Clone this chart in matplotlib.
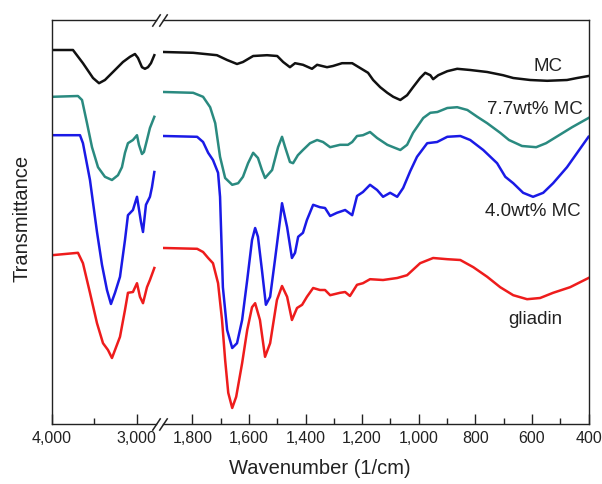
import matplotlib
matplotlib.use("Agg")
import matplotlib.pyplot as plt
from matplotlib.ticker import FixedLocator, FuncFormatter

plt.rcParams['font.family'] = ['Liberation Sans', 'DejaVu Sans']

# ---- data: left segment (high wavenumber) ----
wn_left_mc = [4000, 3752, 3634, 3515, 3444, 3374, 3279, 3161, 3078, 3019, 2983, 2936, 2901, 2865, 2830, 2790]
t_left_mc = [93.5, 93.5, 90.2, 86.5, 85.2, 86.0, 88.0, 90.5, 91.8, 92.5, 91.5, 89.2, 88.8, 89.2, 90.2, 92.2]

wn_left_77 = [4000, 3693, 3645, 3586, 3527, 3456, 3374, 3291, 3220, 3173, 3137, 3102, 3043, 2995, 2972, 2936, 2913, 2877, 2842, 2790]
t_left_77 = [81.8, 82.0, 81.0, 75.2, 69.2, 64.2, 61.8, 61.0, 62.2, 64.2, 67.8, 70.2, 71.0, 72.2, 69.8, 67.5, 68.0, 71.0, 74.0, 76.8]

wn_left_40 = [4000, 3669, 3634, 3551, 3468, 3409, 3350, 3303, 3255, 3196, 3137, 3102, 3043, 2995, 2948, 2924, 2889, 2842, 2818, 2790]
t_left_40 = [72.2, 72.2, 70.2, 61.0, 48.0, 39.8, 33.5, 30.0, 32.8, 36.8, 46.0, 52.2, 53.5, 56.8, 50.5, 48.0, 54.8, 56.8, 59.2, 63.0]

wn_left_gl = [4000, 3693, 3634, 3551, 3468, 3397, 3338, 3291, 3255, 3196, 3137, 3102, 3043, 2995, 2960, 2924, 2877, 2842, 2790]
t_left_gl = [42.2, 42.8, 40.2, 32.8, 25.2, 20.2, 18.5, 16.5, 18.5, 21.8, 28.5, 32.8, 33.0, 35.2, 31.8, 30.2, 34.2, 36.0, 39.0]

# ---- data: right segment (fingerprint region) ----
wn_right_mc = [1900, 1797, 1713, 1677, 1642, 1621, 1585, 1536, 1500, 1479, 1455, 1437, 1409, 1377, 1359,
               1324, 1303, 1271, 1235, 1207, 1179, 1161, 1136, 1111, 1090, 1065, 1041, 1020, 995, 977,
               959, 949, 931, 899, 864, 818, 758, 702, 666, 606, 546, 476, 440, 400]
t_right_mc = [93.0, 92.8, 92.2, 91.0, 90.0, 90.5, 92.0, 92.2, 92.0, 90.5, 89.2, 90.2, 89.8, 88.8, 89.8,
              89.2, 89.5, 90.2, 90.2, 89.0, 87.8, 86.0, 84.2, 82.8, 81.8, 81.0, 82.2, 84.2, 86.5, 87.8,
              87.2, 86.2, 87.2, 88.2, 88.8, 88.5, 88.0, 87.2, 86.5, 86.0, 85.8, 86.0, 86.5, 87.0]

wn_right_77 = [1900, 1797, 1762, 1737, 1719, 1702, 1684, 1659, 1638, 1621, 1603, 1585, 1568, 1554, 1543,
               1518, 1497, 1483, 1472, 1455, 1444, 1427, 1409, 1384, 1359, 1338, 1313, 1278, 1250, 1235,
               1218, 1197, 1172, 1147, 1111, 1090, 1065, 1041, 1020, 984, 959, 934, 899, 864, 828,
               793, 758, 712, 681, 635, 585, 550, 504, 458, 400]
t_right_77 = [83.0, 82.8, 81.8, 79.2, 75.2, 66.8, 61.5, 59.8, 60.2, 61.8, 65.2, 67.8, 66.5, 63.5, 61.5,
              63.5, 69.2, 71.8, 69.2, 65.5, 65.2, 67.2, 68.5, 70.2, 71.0, 70.5, 69.2, 69.8, 69.8, 70.5,
              72.0, 72.2, 73.0, 71.5, 69.8, 69.2, 68.5, 69.8, 72.8, 76.5, 77.8, 78.0, 79.0, 79.2, 78.5,
              76.8, 75.2, 72.8, 71.0, 69.5, 69.2, 70.2, 72.2, 74.2, 76.5]

wn_right_40 = [1900, 1783, 1762, 1744, 1727, 1709, 1702, 1692, 1677, 1659, 1642, 1624, 1606, 1589, 1578,
               1568, 1554, 1540, 1525, 1508, 1490, 1483, 1465, 1448, 1437, 1426, 1409, 1395, 1373, 1349,
               1331, 1313, 1289, 1260, 1235, 1218, 1197, 1172, 1147, 1126, 1101, 1076, 1055, 1030, 1006,
               970, 935, 899, 853, 818, 772, 723, 694, 666, 631, 596, 560, 525, 476, 440, 400]
t_right_40 = [72.0, 71.8, 70.5, 67.8, 66.0, 62.8, 56.8, 34.2, 23.5, 19.0, 20.2, 26.0, 36.0, 46.0, 49.0,
              46.8, 38.5, 29.8, 31.8, 41.0, 51.0, 55.2, 49.2, 41.5, 42.8, 46.8, 47.8, 51.0, 54.8, 54.2,
              54.0, 52.0, 52.8, 53.5, 52.2, 57.0, 58.0, 59.8, 58.5, 56.8, 57.8, 56.8, 59.0, 63.2, 66.8,
              70.2, 70.5, 71.8, 72.0, 71.0, 68.5, 65.2, 61.8, 60.2, 57.8, 56.8, 57.8, 60.2, 64.2, 67.8, 71.8]

wn_right_gl = [1900, 1783, 1762, 1744, 1727, 1709, 1695, 1684, 1673, 1659, 1645, 1624, 1606, 1589, 1578,
               1561, 1543, 1525, 1501, 1483, 1465, 1448, 1430, 1412, 1395, 1373, 1349, 1331, 1313, 1278,
               1260, 1243, 1218, 1197, 1172, 1126, 1076, 1041, 995, 949, 899, 853, 807, 758, 712,
               666, 617, 571, 525, 465, 400]
t_right_gl = [44.0, 43.8, 43.0, 41.5, 40.2, 35.2, 26.0, 16.0, 7.8, 4.0, 6.8, 15.2, 23.5, 29.2, 30.2,
              26.0, 16.8, 20.2, 31.0, 34.5, 31.8, 26.0, 29.0, 29.8, 31.8, 34.0, 33.5, 33.5, 32.2, 32.8,
              33.0, 32.0, 34.8, 35.2, 36.2, 36.0, 36.5, 37.2, 40.2, 41.5, 41.2, 41.0, 39.2, 36.8, 34.2,
              32.2, 31.2, 31.5, 32.8, 34.2, 36.5]

series_names = ["MC", "7.7wt% MC", "4.0wt% MC", "gliadin"]
series_colors = ["#111111", "#2a8a80", "#1a1ae6", "#ee1c1c"]

left_ticks_major = [4000, 3000]
left_ticks_minor = [3500]
right_ticks_major = [1800, 1600, 1400, 1200, 1000, 800, 600, 400]
right_ticks_minor = [1700, 1500, 1300, 1100, 900, 700, 500]

label_pos_wn = [543, 589, 596, 589]
label_pos_t = [89.3, 78.5, 53.0, 26.0]

# ---- figure ----
W, H = 602, 484
fig = plt.figure(figsize=(W / 100, H / 100), dpi=100)
bottom = 1 - 424 / H
height = 404 / H
axL = fig.add_axes([52 / W, bottom, (155.6 - 52) / W, height])
axR = fig.add_axes([162.6 / W, bottom, (588.5 - 162.6) / W, height])

left_data = [(wn_left_mc, t_left_mc), (wn_left_77, t_left_77), (wn_left_40, t_left_40), (wn_left_gl, t_left_gl)]
right_data = [(wn_right_mc, t_right_mc), (wn_right_77, t_right_77), (wn_right_40, t_right_40), (wn_right_gl, t_right_gl)]

for (x, y), c in zip(left_data, series_colors):
    axL.plot(x, y, color=c, lw=1.8, solid_joinstyle='round')
for (x, y), c in zip(right_data, series_colors):
    axR.plot(x, y, color=c, lw=1.8, solid_joinstyle='round')

axL.set_xlim(4000, 2775)
axR.set_xlim(1905, 400)
for ax in (axL, axR):
    ax.set_ylim(0, 101)
    ax.set_yticks([])
    for s in ax.spines.values():
        s.set_linewidth(1.0)
        s.set_color('#222222')
    ax.tick_params(axis='x', which='both', direction='in', top=False, labelsize=11.5, pad=5,
                   colors='#222222', labelcolor='#222222')
    ax.tick_params(axis='x', which='major', length=7, width=1.0)
    ax.tick_params(axis='x', which='minor', length=4.5, width=1.0)
    ax.xaxis.set_major_formatter(FuncFormatter(lambda v, p: f"{int(round(v)):,}"))

axL.spines['right'].set_visible(False)
axR.spines['left'].set_visible(False)
axL.xaxis.set_major_locator(FixedLocator(left_ticks_major))
axL.xaxis.set_minor_locator(FixedLocator(left_ticks_minor))
axR.xaxis.set_major_locator(FixedLocator(right_ticks_major))
axR.xaxis.set_minor_locator(FixedLocator(right_ticks_minor))

# break marks
d = 1.5
kw = dict(marker=[(-1, -d), (1, d)], markersize=9, linestyle='none', color='#222222',
          mec='#222222', mew=1.1, clip_on=False)
axL.plot([1, 1], [0, 1], transform=axL.transAxes, **kw)
axR.plot([0, 0], [0, 1], transform=axR.transAxes, **kw)

for name, xw, yt in zip(series_names, label_pos_wn, label_pos_t):
    axR.text(xw, yt, name, ha='center', va='center', fontsize=13.5, color='#222222')

fig.text((52 + 588.5) / 2 / W, 1 - 468 / H, "Wavenumber (1/cm)", ha='center', va='center',
         fontsize=14.5, color='#222222')
fig.text(22 / W, 1 - 218 / H, "Transmittance", ha='center', va='center', rotation=90,
         fontsize=14.5, color='#222222')

fig.savefig("out.png", dpi=100)
